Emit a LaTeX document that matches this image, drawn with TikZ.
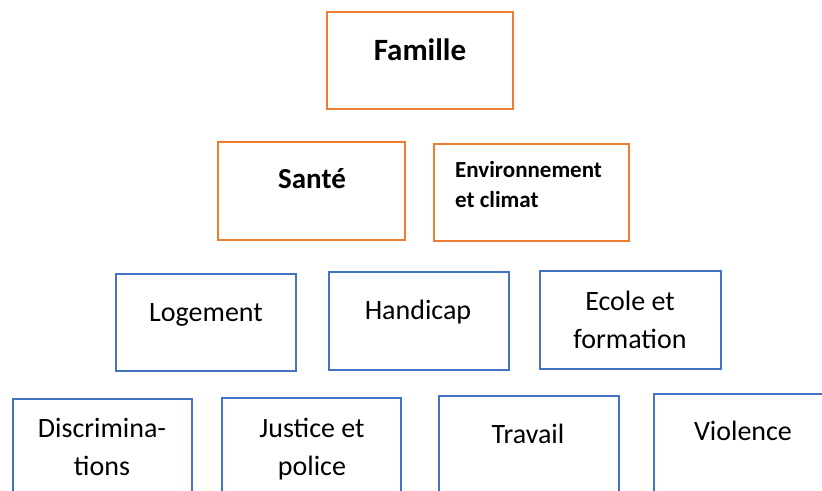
\documentclass[tikz,border=0pt]{standalone}
\usepackage{fontspec}
\setmainfont{Carlito}
\definecolor{orng}{HTML}{ED7D31}
\definecolor{blu}{HTML}{4472C4}
\begin{document}
\begin{tikzpicture}[x=1pt,y=-1pt,
  box/.style={draw, line width=2pt, inner sep=0pt, rectangle},
  ob/.style={box, draw=orng},
  bb/.style={box, draw=blu},
  txt/.style={anchor=base, inner sep=0pt, font=\fontsize{28}{34}\selectfont},
  btxt/.style={anchor=base, inner sep=0pt, font=\bfseries\fontsize{#1}{#1}\selectfont}]
\useasboundingbox (0,0) rectangle (822,490);
\clip (0,0) rectangle (822,490);
% orange boxes
\node[ob, minimum width=186pt, minimum height=97pt] (famille) at (420,60.5) {};
\node[ob, minimum width=187pt, minimum height=98pt] (sante) at (311.5,191) {};
\node[ob, minimum width=195pt, minimum height=97pt] (env) at (531.5,192.5) {};
% blue boxes
\node[bb, minimum width=180pt, minimum height=97pt] (logement) at (206,322.5) {};
\node[bb, minimum width=180pt, minimum height=98pt] (handicap) at (419,321) {};
\node[bb, minimum width=181pt, minimum height=98pt] (ecole) at (630.5,320) {};
\node[bb, minimum width=179pt, minimum height=98pt] (discrim) at (102.5,448) {};
\node[bb, minimum width=179pt, minimum height=98pt] (justice) at (311.5,447) {};
\node[bb, minimum width=180pt, minimum height=98pt] (travail) at (529,445) {};
\node[bb, minimum width=181pt, minimum height=98pt] (violence) at (744.5,443) {};
% texts
\node[btxt=31] (tfam) at (420,60) {Famille};
\node[btxt=29] (tsante) at (312,188) {Santé};
\node[btxt=23, anchor=base west] (tenv1) at (455,177) {Environnement};
\node[btxt=23, anchor=base west] (tenv2) at (455,207) {et climat};
\node[txt] (tlog) at (206,321) {Logement};
\node[txt] (thand) at (418,319) {Handicap};
\node[txt] (tecole1) at (630,310) {Ecole et};
\node[txt] (tecole2) at (630,348) {formation};
\node[txt] (tdis1) at (102,437) {Discrimina-};
\node[txt] (tdis2) at (102,475) {tions};
\node[txt] (tjus1) at (312,437) {Justice et};
\node[txt] (tjus2) at (312,475) {police};
\node[txt] (ttrav) at (528,443) {Travail};
\node[txt] (tviol) at (743,440) {Violence};
\end{tikzpicture}
\end{document}
